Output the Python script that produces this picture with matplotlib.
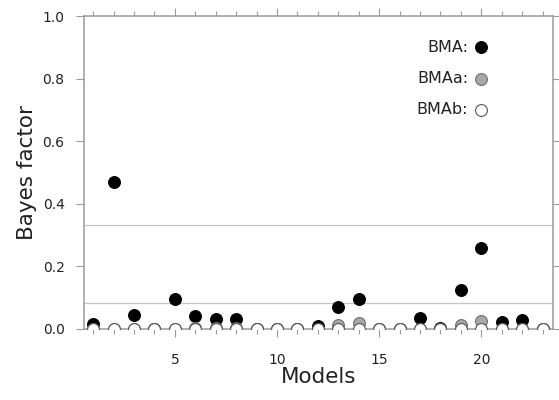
import matplotlib
matplotlib.use("Agg")
import matplotlib.pyplot as plt
from matplotlib.ticker import MultipleLocator

plt.rcParams['font.family'] = ['DejaVu Sans']

models = list(range(1, 24))
bma = [0.015, 0.469, 0.045, 0.0, 0.095, 0.043, 0.031, 0.031, 0.0, 0.0, 0.0,
       0.008, 0.071, 0.096, 0.0, 0.0, 0.034, 0.003, 0.125, 0.26, 0.023, 0.029, 0.0]
bmaa = [0.001, 0.001, 0.001, 0.0, 0.001, 0.002, 0.002, 0.002, 0.0, 0.0, 0.0,
        0.001, 0.012, 0.018, 0.0, 0.0, 0.001, 0.0, 0.012, 0.025, 0.001, 0.001, 0.0]
bmab = [0.0] * 23
thresholds = [1 / 3, 1 / 12]
series_names = ['BMA:', 'BMAa:', 'BMAb:']
legend_y = [0.9, 0.8, 0.7]

fig = plt.figure(figsize=(5.59, 4.0), dpi=100)
ax = fig.add_axes([0.1503, 0.1775, 0.8387, 0.7825])

spine_c = '#9a9a9a'
for h in thresholds:
    ax.axhline(h, color='#c4c4c4', lw=0.9, zorder=1)

styles = [
    dict(markerfacecolor='black', markeredgecolor='black'),
    dict(markerfacecolor='#a8a8a8', markeredgecolor='#6e6e6e'),
    dict(markerfacecolor='white', markeredgecolor='#555555'),
]
for vals, st in zip([bma, bmaa, bmab], styles):
    ax.plot(models, vals, linestyle='none', marker='o', markersize=8.5,
            markeredgewidth=0.8, zorder=3, clip_on=True, **st)

# legend-like labels
for name, y, st in zip(series_names, legend_y, styles):
    ax.plot([20], [y], linestyle='none', marker='o', markersize=8.5,
            markeredgewidth=0.8, zorder=3, **st)
    ax.text(19.35, y, name, ha='right', va='center', fontsize=11.5, color='#222222')

ax.set_xlim(0.55, 23.5)
ax.set_ylim(0, 1.0)
ax.xaxis.set_major_locator(MultipleLocator(5))
ax.xaxis.set_minor_locator(MultipleLocator(1))
ax.set_yticks([0, 0.2, 0.4, 0.6, 0.8, 1.0])
ax.set_yticklabels(['0.0', '0.2', '0.4', '0.6', '0.8', '1.0'])

for s in ax.spines.values():
    s.set_color(spine_c)
    s.set_linewidth(1.1)

ax.tick_params(axis='x', which='major', direction='out', length=6, width=0.8,
               color=spine_c, top=True, labelsize=10, labelcolor='#222222', pad=11)
ax.tick_params(axis='x', which='minor', direction='out', length=3.5, width=0.8,
               color=spine_c, top=True)
ax.tick_params(axis='y', which='major', direction='out', length=6, width=0.8,
               color=spine_c, right=True, labelsize=10, labelcolor='#222222', pad=8)

ax.set_xlabel('Models', fontsize=15.5, color='#222222')
ax.set_ylabel('Bayes factor', fontsize=15.5, color='#222222')
ax.xaxis.set_label_coords(0.5, -0.122)
ax.yaxis.set_label_coords(-0.100, 0.5)

fig.savefig('out.png', dpi=100)
